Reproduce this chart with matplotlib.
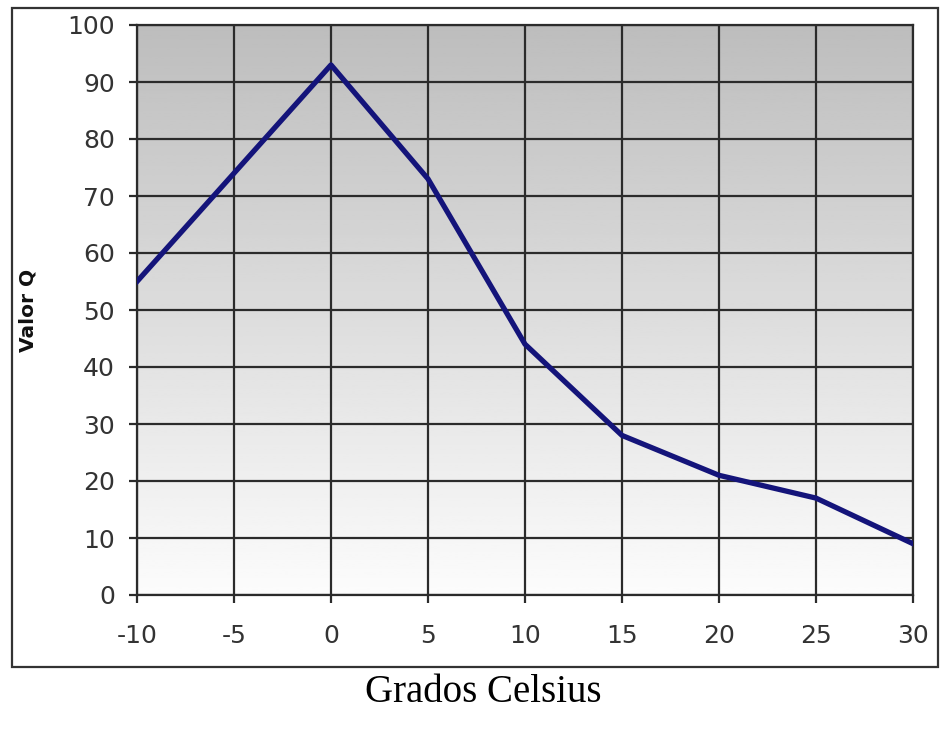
import matplotlib.pyplot as plt
import numpy as np
from matplotlib.patches import Rectangle

# datos
grados = [-10, -5, 0, 5, 10, 15, 20, 25, 30]
valor_q = [55, 74, 93, 73, 44, 28, 21, 17, 9]
xticks = [-10, -5, 0, 5, 10, 15, 20, 25, 30]
yticks = [0, 10, 20, 30, 40, 50, 60, 70, 80, 90, 100]

plt.rcParams['axes.unicode_minus'] = False

fig = plt.figure(figsize=(9.42, 7.37), dpi=100)
ax = fig.add_axes([137/942, 1-595/737, (913-137)/942, (595-25)/737])

# fondo degradado gris -> blanco
grad = np.linspace(1.0, 0.0, 256).reshape(-1, 1)
ax.imshow(grad, extent=[-10, 30, 0, 100], aspect='auto', cmap='gray_r',
          vmin=-0.05, vmax=4.0, zorder=0, origin='upper')

ax.plot(grados, valor_q, color='#14147a', lw=3.8, zorder=3, solid_joinstyle='round')

ax.set_xlim(-10, 30)
ax.set_ylim(0, 100)
ax.set_xticks(xticks)
ax.set_yticks(yticks)
ax.grid(True, color='#2b2b2b', lw=1.6, zorder=1)
ax.set_axisbelow(False)
for s in ax.spines.values():
    s.set_color('#2b2b2b')
    s.set_linewidth(1.6)
ax.tick_params(direction='out', length=6, width=1.6, color='#2b2b2b',
               labelsize=18, labelcolor='#333333')
ax.tick_params(axis='x', pad=15)
ax.tick_params(axis='y', pad=10)

fig.text(28/942, 1-310/737, 'Valor Q', rotation=90, fontweight='bold',
         fontsize=14.5, ha='center', va='center', color='#111111')
fig.text(483/942, 1-693/737, 'Grados Celsius', family='Liberation Serif',
         fontsize=28, ha='center', va='center')

# marco exterior
fig.patches.append(Rectangle((12/942, 1-667/737), (938-12)/942, (667-8)/737,
                             transform=fig.transFigure, fill=False,
                             edgecolor='#333333', lw=1.6))

fig.savefig('out.png', dpi=100)
